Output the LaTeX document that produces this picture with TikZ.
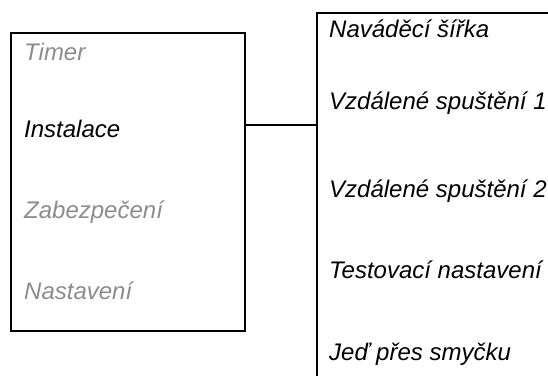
\documentclass[tikz,border=0pt]{standalone}
\usepackage{fontspec}
\setmainfont{Liberation Sans}
\usetikzlibrary{positioning}
\definecolor{cgrey}{HTML}{8C8C8C}
\tikzset{
  every picture/.style={font=\fontsize{24}{28}\selectfont\itshape},
  panel/.style={draw=black, line width=2pt, inner sep=0pt},
  item/.style={anchor=base west, inner sep=0pt, text=black},
  dim/.style={item, text=cgrey},
  link/.style={draw=black, line width=1.8pt},
}

\begin{document}
\begin{tikzpicture}[x=1pt, y=-1pt]
  \useasboundingbox (0,0) rectangle (548,375);
  % main menu
  \node[panel, minimum width=234pt, minimum height=298pt] (menu) at (128,182) {};
  \node[dim] (timer) at (24,60) {Timer};
  \node[item] (instalace) at (24,137) {Instalace};
  \node[dim] (zabezpeceni) at (24,218) {Zabezpečení};
  \node[dim] (nastaveni) at (24,299) {Nastavení};
  % submenu of Instalace
  \node[panel, minimum width=283pt, minimum height=407pt] (submenu) at (458.5,216.5) {};
  \node[item] (sirka) at (329,37) {Naváděcí šířka};
  \node[item] (spusteni1) at (329,109) {Vzdálené spuštění 1};
  \node[item] (spusteni2) at (329,197) {Vzdálené spuštění 2};
  \node[item] (testovaci) at (329,278) {Testovací nastavení};
  \node[item] (smycka) at (329,360) {Jeď přes smyčku};
  \coordinate (tap) at (280,125);
  \draw[link] (menu.east |- tap) -- (submenu.west |- tap);
\end{tikzpicture}
\end{document}
